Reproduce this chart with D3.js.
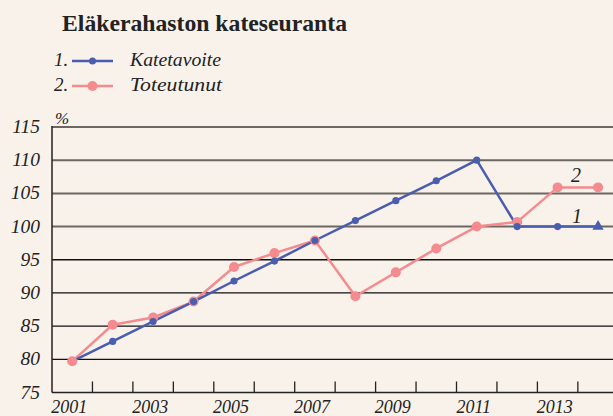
<!DOCTYPE html>
<html><head><meta charset="utf-8">
<script src="https://cdn.jsdelivr.net/npm/d3@7/dist/d3.min.js"></script>
</head><body style="margin:0;background:#f8f2eb;font-family:serif">
<script>
const years = [2001,2002,2003,2004,2005,2006,2007,2008,2009,2010,2011,2012,2013,2014];
const katetavoite = [79.7,82.7,85.7,88.7,91.8,94.8,97.9,100.9,103.9,106.9,110,100,100,100];
const toteutunut = [79.7,85.2,86.3,88.7,93.9,96.0,97.9,89.5,93.1,96.7,100,100.7,105.9,105.9];
const yTicks = [75,80,85,90,95,100,105,110,115];
const xLabels = [2001,2003,2005,2007,2009,2011,2013];
const seriesNames = ["Katetavoite","Toteutunut"];
const colors = ["#4a5dae","#f38b8f"];

(function(){
const W=613,H=416;
const svg=d3.select("body").append("svg").attr("width",W).attr("height",H).style("display","block");
svg.append("rect").attr("width",W).attr("height",H).attr("fill","#f8f2eb");

const mLeft=52, mTop=127, mBottom=392.5;
const x=d3.scaleBand().domain(years).range([mLeft,mLeft+14*40.45]);
const y=d3.scaleLinear().domain([75,115]).range([mBottom,mTop]);
const txt="#222";
function T(sel){ return sel.append("text").attr("font-family","Times New Roman, serif")
  .style("font-family","serif").attr("fill",txt); }

// title
T(svg).attr("x",62).attr("y",31).attr("font-weight","bold").attr("font-size",23)
  .attr("textLength",285).attr("lengthAdjust","spacingAndGlyphs").text("Eläkerahaston kateseuranta");

// legend
const legW=[91,92];
seriesNames.forEach((n,i)=>{
  const yy=61+i*25;
  T(svg).attr("x",54).attr("y",yy+5).attr("font-style","italic").attr("font-size",19).text((i+1)+".");
  svg.append("line").attr("x1",72).attr("x2",113).attr("y1",yy).attr("y2",yy).attr("stroke",colors[i]).attr("stroke-width",2.5);
  svg.append("circle").attr("cx",92.5).attr("cy",yy).attr("r",i===0?3.5:5).attr("fill",colors[i]);
  T(svg).attr("x",130).attr("y",yy+5).attr("font-style","italic").attr("font-size",19)
    .attr("textLength",legW[i]).attr("lengthAdjust","spacingAndGlyphs").text(n);
});

// gridlines
yTicks.forEach(t=>{
  if(t===75) return;
  svg.append("line").attr("x1",mLeft).attr("x2",W).attr("y1",y(t)).attr("y2",y(t))
    .attr("stroke",t>=100?"#6b6762":"#111").attr("stroke-width",t>=100?2:1.3);
});
// y labels
yTicks.forEach(d=>{
  T(svg).attr("x",40).attr("y",y(d)+6).attr("text-anchor","end").attr("font-style","italic").attr("font-size",19.5).text(d);
});
T(svg).attr("x",55).attr("y",124).attr("font-style","italic").attr("font-size",17).text("%");

// axes
svg.append("line").attr("x1",mLeft).attr("x2",mLeft).attr("y1",mTop-1).attr("y2",mBottom).attr("stroke","#222").attr("stroke-width",1.5);
svg.append("line").attr("x1",mLeft).attr("x2",W).attr("y1",mBottom).attr("y2",mBottom).attr("stroke","#222").attr("stroke-width",1.5);
years.slice(1).forEach(yr=>{
  const xx=x(yr);
  svg.append("line").attr("x1",xx).attr("x2",xx).attr("y1",mBottom-11).attr("y2",mBottom).attr("stroke","#222").attr("stroke-width",1.3);
});
xLabels.forEach(d=>{
  T(svg).attr("x",x(d)+x.bandwidth()/2-3).attr("y",413).attr("text-anchor","middle").attr("font-style","italic").attr("font-size",18).text(d);
});

// lines
const line=d3.line().x((d,i)=>x(years[i])+x.bandwidth()/2).y(d=>y(d));
[toteutunut,katetavoite].forEach((s,k)=>{
  const ci = k===0?1:0;
  svg.append("path").attr("d",line(s)).attr("fill","none").attr("stroke",colors[ci]).attr("stroke-width",2.5).attr("stroke-linejoin","round");
});
// pink markers
svg.selectAll(".pm").data(toteutunut).enter().append("circle")
  .attr("cx",(d,i)=>x(years[i])+x.bandwidth()/2).attr("cy",d=>y(d)).attr("r",5).attr("fill",colors[1]);
// blue markers
svg.selectAll(".bm").data(katetavoite).enter().append("path")
  .attr("transform",(d,i)=>`translate(${x(years[i])+x.bandwidth()/2},${y(d)})`)
  .attr("d",(d,i)=>i===0?"":(i===years.length-1?d3.symbol(d3.symbolTriangle,55)():d3.symbol(d3.symbolCircle,40)()))
  .attr("fill",colors[0]);

// series labels
T(svg).attr("x",576).attr("y",182).attr("text-anchor","middle").attr("font-style","italic").attr("font-size",20).text("2");
T(svg).attr("x",577).attr("y",223).attr("text-anchor","middle").attr("font-style","italic").attr("font-size",20).text("1");
})();
</script></body></html>
